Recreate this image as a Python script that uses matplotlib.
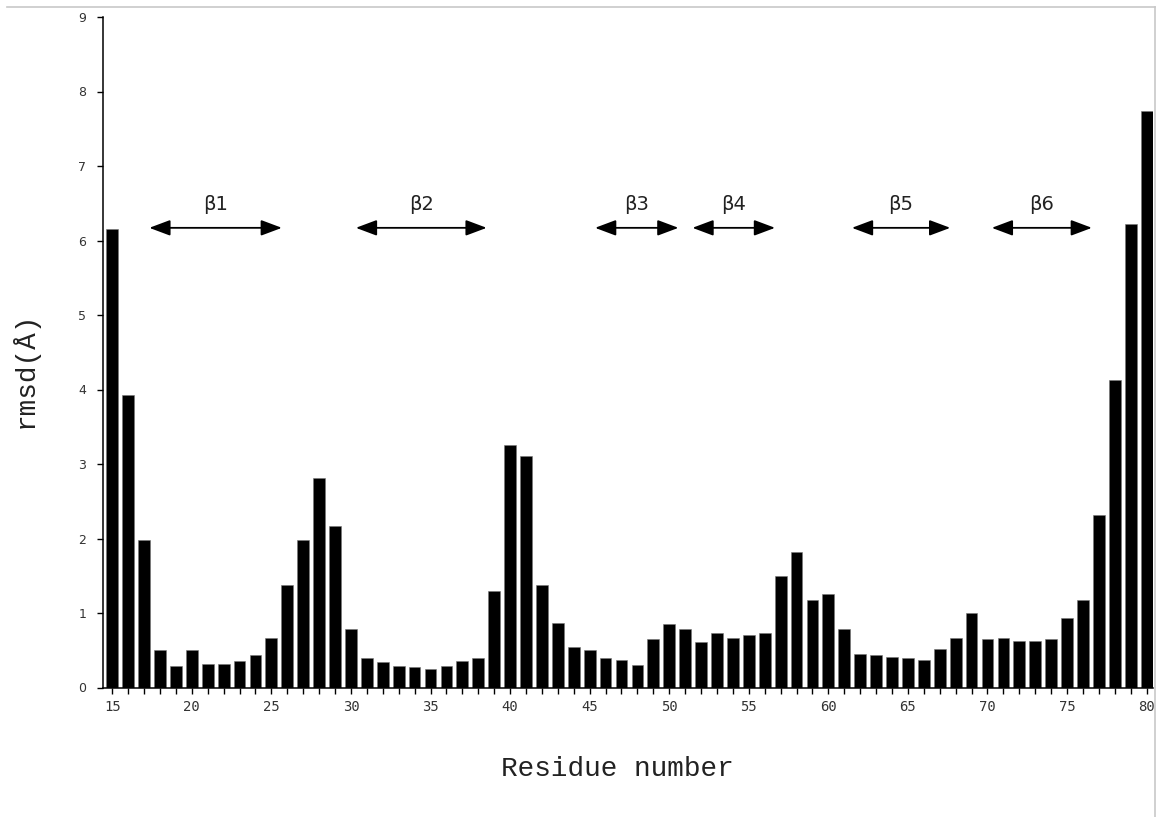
import numpy as np
import matplotlib
matplotlib.use('Agg')
import matplotlib.pyplot as plt
from matplotlib.lines import Line2D

# rmsd per residue
residues = list(range(15, 81))
rmsd = [6.15, 3.93, 1.98, 0.51, 0.29, 0.50, 0.31, 0.31, 0.36, 0.43,
        0.67, 1.37, 1.98, 2.81, 2.17, 0.78, 0.40, 0.34, 0.29, 0.27,
        0.25, 0.29, 0.36, 0.40, 1.30, 3.25, 3.11, 1.37, 0.86, 0.54,
        0.51, 0.39, 0.37, 0.30, 0.65, 0.85, 0.79, 0.61, 0.73, 0.67,
        0.70, 0.73, 1.50, 1.82, 1.18, 1.26, 0.79, 0.45, 0.44, 0.41,
        0.39, 0.37, 0.52, 0.67, 1.00, 0.65, 0.67, 0.63, 0.63, 0.65,
        0.93, 1.18, 2.32, 4.13, 6.22, 7.74]

# beta strands: label, start, end
strand_labels = ['β1', 'β2', 'β3', 'β4', 'β5', 'β6']
strand_start = [17.33, 30.31, 45.34, 51.46, 61.48, 70.27]
strand_end = [25.66, 38.53, 50.58, 56.65, 67.66, 76.56]

W, H = 1159, 817
fig = plt.figure(figsize=(W / 100, H / 100), dpi=100)
ax = fig.add_axes([103 / W, 1 - 687.5 / H, (1153 - 103) / W, (687.5 - 17) / H])

ax.bar(residues, rmsd, width=0.74, color='black', edgecolor='#777777', linewidth=0.4)

ax.set_xlim(14.42, 80.4)
ax.set_ylim(0, 9)
ax.spines['top'].set_visible(False)
ax.spines['right'].set_visible(False)
for s in ['left', 'bottom']:
    ax.spines[s].set_linewidth(1.1)

ax.set_xticks(np.arange(15, 81, 5))
ax.set_xticks(np.arange(15, 81, 1), minor=True)
ax.set_yticks(np.arange(0, 10, 1))
ax.tick_params(axis='x', which='both', direction='out', length=4, width=1.0, pad=5,
               labelsize=10, labelcolor='#333333')
ax.tick_params(axis='y', direction='out', length=4, width=1.0, pad=8,
               labelsize=9, labelcolor='#333333')
for lab in ax.get_xticklabels():
    lab.set_family('DejaVu Sans Mono')

# strand arrows
for lab, x0, x1 in zip(strand_labels, strand_start, strand_end):
    ax.annotate('', xy=(x1, 6.17), xytext=(x0, 6.17),
                arrowprops=dict(arrowstyle='<|-|>,head_length=0.8,head_width=0.3',
                                mutation_scale=16, lw=1.3, color='black',
                                shrinkA=0, shrinkB=0))
    ax.text((x0 + x1) / 2, 6.48, lab, ha='center', va='center',
            fontsize=14, family='DejaVu Sans', color='#222222')

fig.text(617 / W, 1 - 769 / H, 'Residue number', ha='center', va='center',
         fontsize=20, family='Liberation Mono', color='#222222')
fig.text(25 / W, 1 - 370 / H, 'rmsd(Å)', ha='center', va='center', rotation=90,
         fontsize=20, family='Liberation Mono', color='#222222')

# light grey frame on top and right
fig.add_artist(Line2D([7 / W, 1155 / W], [1 - 7 / H, 1 - 7 / H],
                      transform=fig.transFigure, color='#c8c8c8', lw=1.2))
fig.add_artist(Line2D([1155 / W, 1155 / W], [1 - 7 / H, 0],
                      transform=fig.transFigure, color='#c8c8c8', lw=1.2))

fig.savefig('out.png', dpi=100)
